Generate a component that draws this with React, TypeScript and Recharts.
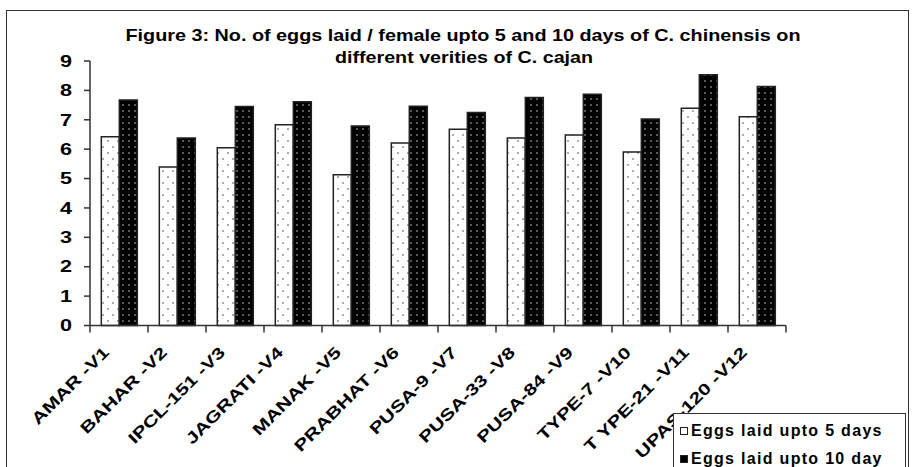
import { BarChart, Bar, XAxis, YAxis } from 'recharts'

const varieties = [
  'AMAR -V1',
  'BAHAR -V2',
  'IPCL-151 -V3',
  'JAGRATI -V4',
  'MANAK -V5',
  'PRABHAT -V6',
  'PUSA-9 -V7',
  'PUSA-33 -V8',
  'PUSA-84 -V9',
  'TYPE-7 -V10',
  'T YPE-21 -V11',
  'UPAS-120 -V12',
]
const eggs5 = [6.42, 5.39, 6.05, 6.83, 5.13, 6.21, 6.68, 6.38, 6.48, 5.9, 7.39, 7.1]
const eggs10 = [7.67, 6.38, 7.45, 7.61, 6.79, 7.46, 7.25, 7.76, 7.87, 7.03, 8.53, 8.13]
const yTicks = [0, 1, 2, 3, 4, 5, 6, 7, 8, 9]
const seriesNames = ['Eggs laid upto 5 days', 'Eggs laid upto 10 day']

const data = varieties.map((name, i) => ({ name, d5: eggs5[i], d10: eggs10[i] }))

const FONT = 'Arial, "Liberation Sans", sans-serif'
const HALF_BAND = 29
const STRETCH = 1.32

function CategoryTick(props: any) {
  const { x, y, payload, index } = props
  const tx = x - 9
  const ty = y + 28
  return (
    <g>
      <line x1={x - HALF_BAND} x2={x - HALF_BAND} y1={y} y2={y + 7} stroke="#333" strokeWidth={1.5} />
      {index === varieties.length - 1 && (
        <line x1={x + HALF_BAND} x2={x + HALF_BAND} y1={y} y2={y + 7} stroke="#333" strokeWidth={1.5} />
      )}
      <g transform={`translate(${tx} ${ty}) rotate(-45) scale(${STRETCH} 1)`}>
        <text x={0} y={0} textAnchor="end" fontFamily={FONT} fontWeight="bold" fontSize={16} fill="#000">
          {payload.value}
        </text>
      </g>
    </g>
  )
}

function ValueTick(props: any) {
  const { x, y, payload } = props
  return (
    <g transform={`translate(${x} ${y}) scale(1.35 1)`}>
      <text x={0} y={0} dy="0.36em" textAnchor="end" fontFamily={FONT} fontWeight="bold" fontSize={16} fill="#000">
        {payload.value}
      </text>
    </g>
  )
}

function LegendBox() {
  const fills = ['#fff', '#000']
  return (
    <div
      style={{
        position: 'absolute',
        left: 673,
        top: 413,
        width: 233,
        height: 60,
        border: '1.5px solid #333',
        borderBottom: 'none',
        background: '#fff',
        boxSizing: 'border-box',
        paddingLeft: 6,
        paddingTop: 3,
      }}
    >
      {seriesNames.map((label, i) => (
        <div
          key={label}
          style={{
            display: 'flex',
            alignItems: 'center',
            height: 28,
            fontFamily: FONT,
            fontWeight: 'bold',
            fontSize: 16,
            letterSpacing: 1.3,
            color: '#000',
            whiteSpace: 'nowrap',
          }}
        >
          <span
            style={{
              display: 'inline-block',
              width: 6,
              height: 6,
              border: '1px solid #222',
              background: fills[i],
              marginRight: 3,
            }}
          />
          {label}
        </div>
      ))}
    </div>
  )
}

export default function App() {
  return (
    <div style={{ position: 'absolute', left: 0, top: 0, width: 912, height: 467, overflow: 'hidden', background: '#fff' }}>
      <div
        style={{
          position: 'absolute',
          left: 6,
          top: 10,
          width: 903,
          height: 460,
          border: '1.5px solid #333',
          borderBottom: 'none',
          boxSizing: 'border-box',
        }}
      />
      <svg width={912} height={80} style={{ position: 'absolute', left: 0, top: 0 }}>
        <text x={463} y={41} textAnchor="middle" fontFamily={FONT} fontWeight="bold" fontSize={17} textLength={675} lengthAdjust="spacingAndGlyphs">
          Figure 3: No. of eggs laid / female upto 5 and 10 days of C. chinensis on
        </text>
        <text x={464} y={63} textAnchor="middle" fontFamily={FONT} fontWeight="bold" fontSize={17} textLength={258} lengthAdjust="spacingAndGlyphs">
          different verities of C. cajan
        </text>
      </svg>
      <div style={{ position: 'absolute', left: 0, top: 0 }}>
        <BarChart
          width={912}
          height={467}
          data={data}
          margin={{ top: 61, right: 126, left: 0, bottom: 0 }}
          barCategoryGap="19.5%"
          barGap={0}
        >
          <defs>
            <pattern id="dotsLight" width="10" height="12" patternUnits="userSpaceOnUse">
              <rect width="10" height="12" fill="#fff" />
              <circle cx="3" cy="3" r="0.75" fill="#333" />
              <circle cx="8" cy="9" r="0.75" fill="#333" />
            </pattern>
            <pattern id="dotsDark" width="6" height="6" patternUnits="userSpaceOnUse">
              <rect width="6" height="6" fill="#000" />
              <circle cx="3" cy="3" r="0.75" fill="#ddd" />
            </pattern>
          </defs>
          <XAxis
            dataKey="name"
            interval={0}
            height={141.5}
            tickSize={0}
            tickMargin={0}
            tickLine={false}
            axisLine={{ stroke: '#333', strokeWidth: 1.5 }}
            tick={<CategoryTick />}
          />
          <YAxis
            domain={[0, 9]}
            ticks={yTicks}
            width={90}
            tickSize={6}
            tickMargin={12}
            interval={0}
            axisLine={{ stroke: '#333', strokeWidth: 1.5 }}
            tickLine={{ stroke: '#333', strokeWidth: 1.5 }}
            tick={<ValueTick />}
          />
          <Bar dataKey="d5" name={seriesNames[0]} fill="url(#dotsLight)" stroke="#222" strokeWidth={1.5} isAnimationActive={false} />
          <Bar dataKey="d10" name={seriesNames[1]} fill="url(#dotsDark)" stroke="#222" strokeWidth={1.5} isAnimationActive={false} />
        </BarChart>
      </div>
      <LegendBox />
    </div>
  )
}
